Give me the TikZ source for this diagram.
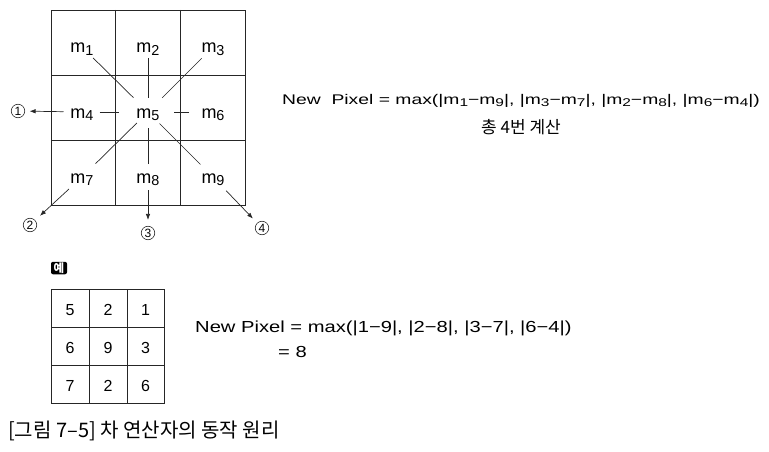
\documentclass[tikz,border=0pt]{standalone}
\usepackage{fontspec}
\usepackage{graphicx}
\setmainfont{Liberation Sans}
\newfontfamily\kr{Noto Sans CJK KR}
\usetikzlibrary{arrows.meta,calc}
\newcommand\sbs[1]{\raisebox{-0.12em}{\scalebox{0.8}{#1}}}
\tikzset{
  gridline/.style={line width=0.9pt,draw=black!85},
  conn/.style={line width=0.7pt,draw=black!85},
  arr/.style={conn,-{Latex[length=6pt,width=4.5pt]}},
  lab/.style={anchor=base,inner sep=0,font=\fontsize{18}{18}\selectfont},
  num/.style={anchor=base,inner sep=0,font=\fontsize{16}{16}\selectfont},
  circnum/.style={circle,draw=black!85,line width=0.6pt,inner sep=0,minimum size=13.5pt,font=\fontsize{12}{12}\selectfont},
  txt/.style={anchor=base west,inner sep=0},
}
\begin{document}
\begin{tikzpicture}[x=1pt,y=1pt]
\useasboundingbox (0,0) rectangle (769,-452);
% big grid
\draw[gridline] (51,-10) rectangle (245,-205);
\draw[gridline] (115,-10) -- (115,-205) (180,-10) -- (180,-205)
  (51,-75) -- (245,-75) (51,-140) -- (245,-140);
% labels
\node[lab] (m1) at (82,-53) {m\sbs{1}};
\node[lab] (m2) at (148,-53) {m\sbs{2}};
\node[lab] (m3) at (213,-53) {m\sbs{3}};
\node[lab] (m4) at (82,-118) {m\sbs{4}};
\node[lab] (m5) at (148,-118) {m\sbs{5}};
\node[lab] (m6) at (213,-118) {m\sbs{6}};
\node[lab] (m7) at (82,-183) {m\sbs{7}};
\node[lab] (m8) at (148,-183) {m\sbs{8}};
\node[lab] (m9) at (213,-183) {m\sbs{9}};
\foreach \i in {1,...,9} {\coordinate (p\i) at ($(m\i.base)+(0,6)$);}
% connectors to centre
\draw[conn,shorten <=15.6pt,shorten >=20.5pt] (p1) -- (p5);
\draw[conn,shorten <=11pt,shorten >=14pt] (p2) -- (p5);
\draw[conn,shorten <=16pt,shorten >=20pt] (p3) -- (p5);
\draw[conn,shorten <=17.5pt,shorten >=29pt] (p4) -- (p5);
\draw[conn,shorten <=24pt,shorten >=26pt] (p6) -- (p5);
\draw[conn,shorten <=19pt,shorten >=15.6pt] (p7) -- (p5);
\draw[conn,shorten <=13pt,shorten >=16pt] (p8) -- (p5);
\draw[conn,shorten <=17.7pt,shorten >=16.3pt] (p9) -- (p5);
% circled numbers
\node[circnum] (c1) at (18,-111) {1};
\node[circnum] (c2) at (30,-225) {2};
\node[circnum] (c3) at (148,-233) {3};
\node[circnum] (c4) at (262,-228) {4};
\draw[arr,shorten <=18.5pt,shorten >=4.5pt] (p4) -- (c1);
\draw[arr,shorten <=17.7pt,shorten >=6.5pt] (p7) -- (c2);
\draw[arr,shorten <=13pt,shorten >=6pt] (p8) -- (c3);
\draw[arr,shorten <=19pt,shorten >=6pt] (p9) -- (c4);
% formula 1
\node[txt] (f1) at (282,-105) {\scalebox{1.38}[1]{\fontsize{14}{14}\selectfont New\ \ Pixel = max(|m\sbs{1}−m\sbs{9}|, |m\sbs{3}−m\sbs{7}|, |m\sbs{2}−m\sbs{8}|, |m\sbs{6}−m\sbs{4}|)}};
\node[anchor=base,inner sep=0] (t1) at (521,-133) {\kr\fontsize{17}{17}\selectfont 총 4번 계산};
% example label
\node[fill=black,rounded corners=2pt,text=white,minimum width=16pt,minimum height=12.5pt,inner sep=0,font=\kr\bfseries\fontsize{11.5}{11.5}\selectfont] (ex) at (59,-268) {예};
% small grid
\draw[gridline] (51.7,-289) rectangle (164,-403);
\draw[gridline] (89,-289) -- (89,-403) (127,-289) -- (127,-403)
  (51.7,-327) -- (164,-327) (51.7,-365) -- (164,-365);
\node[num] (n1) at (70,-315) {5};
\node[num] (n2) at (108,-315) {2};
\node[num] (n3) at (145.5,-315) {1};
\node[num] (n4) at (70,-353) {6};
\node[num] (n5) at (108,-353) {9};
\node[num] (n6) at (145.5,-353) {3};
\node[num] (n7) at (70,-391) {7};
\node[num] (n8) at (108,-391) {2};
\node[num] (n9) at (145.5,-391) {6};
% formula 2
\node[txt] (f2) at (195,-332) {\scalebox{1.26}[1]{\fontsize{16}{16}\selectfont New Pixel = max(|1−9|, |2−8|, |3−7|, |6−4|)}};
\node[txt] (f3) at (278,-357) {\scalebox{1.26}[1]{\fontsize{16}{16}\selectfont = 8}};
% caption
\node[txt] (cap) at (8,-437) {\kr\fontsize{20}{20}\selectfont [그림 7–5] 차 연산자의 동작 원리};
\end{tikzpicture}
\end{document}
